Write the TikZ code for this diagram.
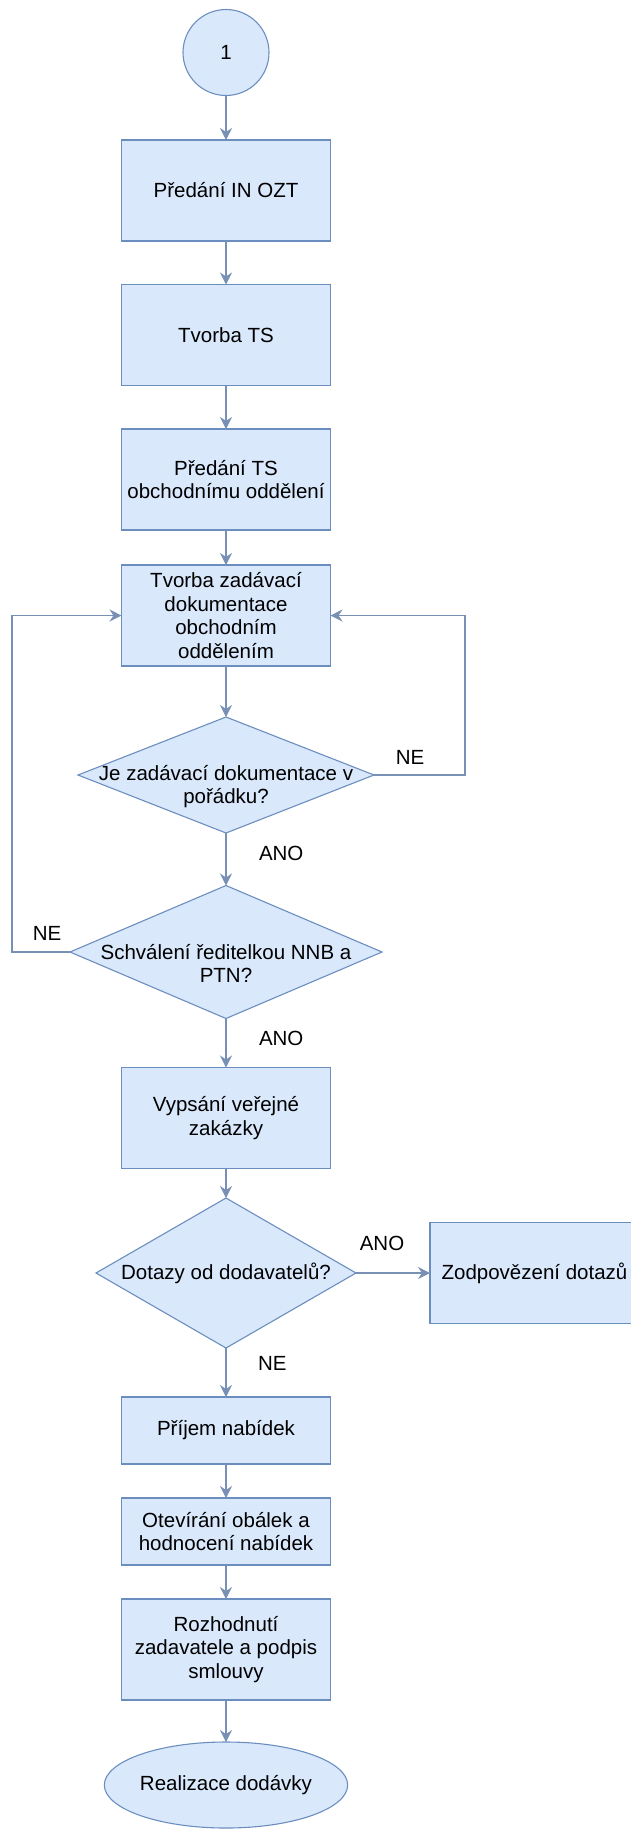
\documentclass[tikz,border=0pt]{standalone}
\usepackage{fontspec}
\setmainfont{Liberation Sans}
\usetikzlibrary{shapes.geometric,arrows.meta}
\definecolor{boxfill}{HTML}{DAE8FC}
\definecolor{boxline}{HTML}{6C8EBF}
\definecolor{edgeline}{HTML}{7890B4}

\begin{document}
\begin{tikzpicture}[x=1pt,y=-1pt,
  font=\fontsize{20.5}{23.5}\selectfont,
  every node/.style={inner sep=0pt, outer sep=0pt},
  shapebase/.style={draw=boxline, fill=boxfill, line width=1.1pt},
  procbox/.style={shapebase, rectangle, minimum width=209pt, minimum height=101pt, align=center},
  decision/.style={shapebase, diamond},
  terminal/.style={shapebase, ellipse},
  flow/.style={draw=edgeline, line width=1.2pt, -{Stealth[length=12pt,width=12pt,inset=4pt]}},
  answer/.style={text=black},
]
\useasboundingbox (0,0) rectangle (631,1829);
\clip (0,0) rectangle (631,1829);

% start connector and process chain
\node[shapebase, circle, minimum size=86pt] (start) at (226,52.5) {1};
\node[procbox] (b1) at (226,190.5) {Předání IN OZT};
\node[procbox] (b2) at (226,335) {Tvorba TS};
\node[procbox] (b3) at (226,479.5) {Předání TS\\obchodnímu oddělení};
\node[procbox] (b4) at (226,615.5) {Tvorba zadávací\\dokumentace\\obchodním\\oddělením};

% decisions (text set separately so the outline keeps its own size)
\node[decision, minimum width=296pt, minimum height=116pt] (d1) at (226,775) {};
\node[align=center] (d1t) at ([yshift=-11.5pt]d1.center) {Je zadávací dokumentace v\\pořádku?};
\node[decision, minimum width=312pt, minimum height=133pt] (d2) at (226,952) {};
\node[align=center] (d2t) at ([yshift=-11.5pt]d2.center) {Schválení ředitelkou NNB a\\PTN?};

\node[procbox] (b5) at (226,1118) {Vypsání veřejné\\zakázky};
\node[decision, minimum width=260pt, minimum height=150pt] (d3) at (226,1273) {};
\node (d3t) at (d3.center) {Dotazy od dodavatelů?};
\node[procbox] (b6) at (534.5,1273) {Zodpovězení dotazů};

\node[procbox, minimum height=67pt] (b7) at (226,1430.5) {Příjem nabídek};
\node[procbox, minimum height=67pt] (b8) at (226,1531.5) {Otevírání obálek a\\hodnocení nabídek};
\node[procbox] (b9) at (226,1649.5) {Rozhodnutí\\zadavatele a podpis\\smlouvy};
\node[terminal, minimum width=226pt, minimum height=86pt] (end) at (226,1785) {Realizace dodávky};

% connectors
\draw[flow] (start) -- (b1);
\draw[flow] (b1) -- (b2);
\draw[flow] (b2) -- (b3);
\draw[flow] (b3) -- (b4);
\draw[flow] (b4) -- (d1);
\draw[flow] (d1) -- (d2);
\draw[flow] (d1.east) -- ++(91,0) |- (b4.east);
\draw[flow] (d2.west) -- ++(-58,0) |- (b4.west);
\draw[flow] (d2) -- (b5);
\draw[flow] (b5) -- (d3);
\draw[flow] (d3.east) -- (b6.west);
\draw[flow] (d3) -- (b7);
\draw[flow] (b7) -- (b8);
\draw[flow] (b8) -- (b9);
\draw[flow] (b9) -- (end);

% branch labels
\node[answer] (ne1) at (410,757) {NE};
\node[answer, anchor=west] (ano1) at (259,853) {ANO};
\node[answer] (ne2) at (47,933) {NE};
\node[answer, anchor=west] (ano2) at (259,1038) {ANO};
\node[answer] (ano3) at (382,1243) {ANO};
\node[answer, anchor=west] (ne3) at (258,1363) {NE};
\end{tikzpicture}
\end{document}
